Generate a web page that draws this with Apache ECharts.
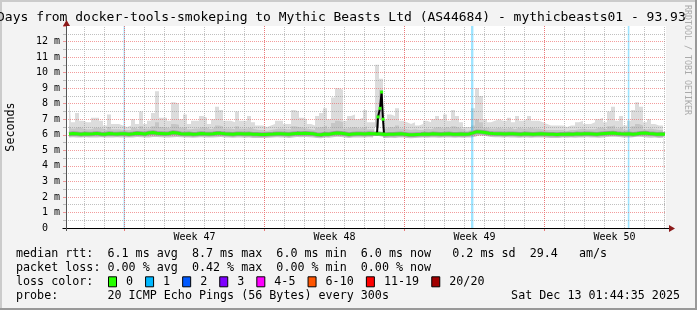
<!DOCTYPE html>
<html><head><meta charset="utf-8">
<script src="https://cdn.jsdelivr.net/npm/echarts@6/dist/echarts.min.js"></script>
<style>html,body{margin:0;padding:0;background:#f3f3f3}#c{width:697px;height:310px}</style>
</head><body><div id="c"></div>
<script>
// ---------------- data ----------------
const titleText = 'Days from docker-tools-smokeping to Mythic Beasts Ltd (AS44684) - mythicbeasts01 - 93.93';
const yAxisName = 'Seconds';
const watermark = 'RRDTOOL / TOBI OETIKER';
const weekLabels = ['Week 47', 'Week 48', 'Week 49', 'Week 50'];
const weekMidDays = [6.425, 13.425, 20.425, 27.425];   // label centres (days from graph start)
const weekStartDays = [2.925, 9.925, 16.925, 23.925];  // major grid (week boundaries)
const firstDayLine = 0.925;                            // minor grid (day boundaries)
const spanDays = 30;
const lossBands = [[2.88, 2.95], [20.25, 20.37], [28.09, 28.17]]; // 1/20 loss periods
const binStart = 0.15, binDays = 0.2;                  // sample spacing of the arrays below

// median rtt per bin (ms); the two bins of the week-48 spike are sampled finer below
const median = [
 6.05,6.08,6.06,6.04,6.07,6.05,6.06,6.09,6.05,6.04,
 6.08,6.06,6.05,6.07,6.06,6.04,6.06,6.10,6.08,6.05,
 6.12,6.14,6.10,6.08,6.06,6.08,6.15,6.12,6.07,6.05,
 6.06,6.04,6.05,6.08,6.06,6.05,6.07,6.10,6.09,6.06,
 6.05,6.04,6.07,6.06,6.05,6.06,6.04,6.03,6.02,6.02,
 6.04,6.05,6.07,6.06,6.05,6.03,6.06,6.09,6.08,6.10,
 6.08,6.06,6.02,6.00,6.05,6.04,6.08,6.12,6.10,6.06,
 6.02,6.05,6.07,6.06,6.05,6.08,6.06,null,null,6.02,
 6.04,6.03,6.05,6.06,6.04,6.00,6.00,6.02,6.03,6.05,
 6.04,6.06,6.05,6.04,6.05,6.06,6.03,6.04,6.05,6.04,
 6.05,6.12,6.20,6.18,6.15,6.10,6.08,6.07,6.06,6.05,
 6.07,6.06,6.05,6.04,6.06,6.05,6.04,6.05,6.06,6.05,
 6.04,6.03,6.02,6.04,6.03,6.05,6.04,6.06,6.05,6.07,
 6.06,6.05,6.04,6.06,6.08,6.10,6.12,6.08,6.06,6.05,
 6.07,6.04,6.06,6.10,6.12,6.08,6.06,6.04,6.05,6.03
];
const smokeMin = [
 5.82,5.84,5.83,5.82,5.84,5.83,5.82,5.83,5.84,5.82,
 5.83,5.82,5.84,5.83,5.82,5.82,5.83,5.85,5.84,5.82,
 5.83,5.85,5.86,5.84,5.83,5.82,5.84,5.86,5.84,5.82,
 5.82,5.81,5.82,5.84,5.83,5.82,5.83,5.84,5.85,5.83,
 5.82,5.81,5.83,5.82,5.81,5.82,5.80,5.80,5.79,5.80,
 5.81,5.82,5.84,5.83,5.82,5.80,5.83,5.85,5.84,5.85,
 5.84,5.82,5.80,5.78,5.82,5.81,5.84,5.87,5.86,5.82,
 5.80,5.82,5.83,5.83,5.82,5.84,5.83,6.50,7.00,5.80,
 5.81,5.80,5.82,5.83,5.79,5.77,5.80,5.81,5.82,5.81,
 5.83,5.82,5.81,5.82,5.83,5.82,5.81,5.82,5.81,5.82,
 5.82,5.88,5.95,5.93,5.90,5.86,5.84,5.84,5.83,5.84,
 5.83,5.82,5.81,5.83,5.82,5.81,5.82,5.83,5.82,5.81,
 5.80,5.79,5.80,5.82,5.81,5.82,5.81,5.83,5.82,5.84,
 5.83,5.82,5.81,5.83,5.85,5.87,5.88,5.85,5.83,5.82,
 5.83,5.86,5.88,5.85,5.83,5.81,5.82,5.80,5.81,5.80
];
const smokeMid = [
 6.60,6.40,6.50,6.40,6.35,6.35,6.45,6.45,6.40,6.30,
 6.50,6.35,6.35,6.30,6.30,6.30,6.45,6.35,6.55,6.40,
 6.40,6.55,6.80,6.50,6.45,6.40,6.70,6.65,6.45,6.50,
 6.35,6.40,6.40,6.50,6.45,6.35,6.45,6.60,6.55,6.40,
 6.40,6.35,6.55,6.40,6.40,6.45,6.35,6.30,6.30,6.25,
 6.30,6.35,6.40,6.40,6.35,6.35,6.55,6.50,6.45,6.40,
 6.35,6.30,6.45,6.50,6.60,6.40,6.75,6.90,6.80,6.40,
 6.45,6.50,6.40,6.45,6.55,6.35,6.35,7.60,8.90,6.40,
 6.50,6.45,6.60,6.40,6.35,6.30,6.35,6.30,6.30,6.40,
 6.35,6.45,6.50,6.40,6.50,6.40,6.55,6.45,6.35,6.25,
 6.30,6.60,7.00,6.80,6.45,6.40,6.40,6.45,6.40,6.40,
 6.45,6.35,6.45,6.40,6.40,6.45,6.40,6.40,6.35,6.30,
 6.30,6.30,6.30,6.30,6.25,6.30,6.30,6.35,6.40,6.35,
 6.35,6.35,6.45,6.45,6.35,6.55,6.60,6.40,6.50,6.30,
 6.40,6.55,6.70,6.60,6.35,6.40,6.35,6.30,6.30,6.25
];
const smokeMax = [
 8.4,6.8,7.4,6.9,6.8,6.8,7.1,7.1,6.9,6.6,
 7.3,6.7,6.7,6.6,6.5,6.6,7.0,6.7,7.5,6.7,
 6.9,7.4,8.8,7.1,7.1,6.9,8.1,8.0,7.0,7.3,
 6.7,6.9,6.9,7.2,7.1,6.7,7.0,7.8,7.6,6.9,
 6.9,6.8,7.5,6.9,6.9,7.2,6.8,6.6,6.6,6.5,
 6.6,6.7,6.9,6.9,6.7,6.7,7.6,7.5,7.1,7.0,
 6.7,6.6,7.2,7.4,7.7,7.0,8.4,9.0,8.9,6.9,
 7.2,7.3,7.0,7.1,7.6,6.8,6.8,10.5,9.6,7.0,
 7.3,7.2,7.7,6.9,6.8,6.7,6.8,6.6,6.7,6.9,
 6.8,7.0,7.2,7.0,7.3,6.9,7.6,7.2,6.8,6.5,
 6.5,7.7,9.0,8.5,7.0,6.8,6.9,7.0,6.9,6.9,
 7.1,6.8,7.2,6.9,7.0,7.2,6.9,6.9,6.8,6.7,
 6.6,6.6,6.6,6.6,6.5,6.6,6.6,6.8,6.9,6.7,
 6.7,6.8,7.0,7.1,6.8,7.5,7.8,6.9,7.2,6.6,
 6.9,7.6,8.1,7.8,6.8,7.0,6.7,6.6,6.6,6.5
];
// finer samples of the median spike in week 48
const spikeDays   = [15.55, 15.60, 15.70, 15.78, 15.85, 15.90];
const spikeValues = [6.06, 7.15, 7.70, 8.75, 7.00, 6.05];

const legendRows = [
  'median rtt:  6.1 ms avg  8.7 ms max  6.0 ms min  6.0 ms now   0.2 ms sd  29.4   am/s',
  'packet loss: 0.00 % avg  0.42 % max  0.00 % min  0.00 % now'
];
const lossColorTitle = 'loss color:';
const lossLabels = ['0', '1', '2', '3', '4-5', '6-10', '11-19', '20/20'];
const lossColors = ['#26ff00', '#00b8ff', '#0059ff', '#7e00ff', '#ff00ff', '#ff5500', '#ff0000', '#a10000'];
const probeText = 'probe:       20 ICMP Echo Pings (56 Bytes) every 300s';
const dateText = 'Sat Dec 13 01:44:35 2025';

// ---------------- chart ----------------
const G = {left: 66, right: 31, top: 26, bottom: 82};
const W = 697, H = 310;
const mono = '"DejaVu Sans Mono", monospace';
const times = median.map((_, i) => binStart + binDays * i);
const pair = (arr) => arr.map((v, i) => [times[i], v === null ? '-' : v]);
const dayLines = [];
for (let d = firstDayLine; d < spanDays; d += 1) {
  const dd = +d.toFixed(3);
  if (!weekStartDays.some(w => Math.abs(w - dd) < 1e-6)) dayLines.push({xAxis: dd});
}

const chart = echarts.init(document.getElementById('c'), null, {renderer: 'canvas'});
const x0 = G.left, yb = H - G.bottom;

const majorColor = 'rgba(235,90,90,0.6)';
const majorVColor = '#e97a7a';
const minorColor = 'rgba(150,150,150,0.6)';
const area = (data, color, z) => ({type: 'line', step: 'middle', symbol: 'none', z: z, silent: true,
  lineStyle: {width: 0}, areaStyle: {color: color, opacity: 1, origin: 'start'}, data: pair(data)});

chart.setOption({
  animation: false,
  backgroundColor: '#f3f3f3',
  grid: {left: G.left, right: G.right, top: G.top, bottom: G.bottom, show: true,
    backgroundColor: '#ffffff', borderWidth: 0},
  xAxis: {
    type: 'value', min: 0, max: spanDays, z: 3,
    axisLine: {show: false},
    splitLine: {show: false},
    axisTick: {show: true, customValues: weekStartDays, length: 3, inside: false,
      lineStyle: {color: majorVColor}},
    axisLabel: {show: true, customValues: weekMidDays, margin: 4, color: '#000',
      fontFamily: 'DejaVu Sans Mono', fontSize: 10,
      formatter: (v) => {
        let best = 0;
        weekMidDays.forEach((m, i) => { if (Math.abs(m - v) < Math.abs(weekMidDays[best] - v)) best = i; });
        return weekLabels[best];
      }}
  },
  yAxis: {
    type: 'value', min: 0, max: 13, interval: 1, z: 3,
    axisLine: {show: false},
    axisTick: {show: true, length: 3, lineStyle: {color: majorColor}},
    minorTick: {show: true, splitNumber: 2, length: 3, lineStyle: {color: minorColor}},
    splitLine: {show: true, showMinLine: false, showMaxLine: false,
      lineStyle: {color: majorColor, type: [1, 1], width: 1}},
    minorSplitLine: {show: true, lineStyle: {color: minorColor, type: [1, 1], width: 1}},
    axisLabel: {show: true, showMaxLabel: false, margin: 6, color: '#000',
      fontFamily: 'DejaVu Sans Mono', fontSize: 10,
      formatter: (v) => v === 0 ? '0  ' : v + ' m'}
  },
  series: [
    area(smokeMax, '#dcdcdc', 1.1),
    area(smokeMid, '#c6c6c6', 1.2),
    area(smokeMin, '#ffffff', 1.3),
    {type: 'line', data: [], z: 2, silent: true,
      markArea: {silent: true, z: 2, itemStyle: {color: 'rgba(0,184,255,0.38)'},
        data: lossBands.map(b => [{xAxis: b[0]}, {xAxis: b[1]}])}},
    {type: 'line', data: [], z: 3, silent: true,
      markLine: {silent: true, z: 3, symbol: ['none', 'none'], label: {show: false},
        lineStyle: {color: minorColor, type: [1, 1], width: 1},
        data: dayLines}},
    {name: 'dark', type: 'line', step: 'middle', symbol: 'none', z: 4, silent: true, connectNulls: true,
      lineStyle: {color: '#9c9c9c', width: 4.5}, data: pair(median)},
    {name: 'median', type: 'line', step: 'middle', symbol: 'none', z: 5, silent: true, connectNulls: true,
      lineStyle: {color: '#26ff00', width: 3}, data: pair(median)},
    {name: 'spike', type: 'line', z: 6, symbol: 'rect', symbolSize: 3, showSymbol: true, silent: true,
      itemStyle: {color: '#26ff00'}, lineStyle: {color: '#000', width: 2},
      data: spikeDays.map((d, i) => [d, spikeValues[i]])}
  ]
});

const graphics = [];
// week boundary grid lines, positioned through the x axis scale
weekStartDays.forEach(w => {
  const px = Math.round(chart.convertToPixel({xAxisIndex: 0}, w) - 0.5) + 0.5;
  graphics.push({type: 'line', z: 3, silent: true,
    shape: {x1: px, y1: G.top, x2: px, y2: yb},
    style: {stroke: majorVColor, lineWidth: 1, lineDash: [1, 1]}});
});
// frame
graphics.push({type: 'rect', shape: {x: 0, y: 0, width: W, height: 2}, style: {fill: '#cbcbcb'}, z: 50});
graphics.push({type: 'rect', shape: {x: 0, y: 0, width: 2, height: H}, style: {fill: '#cbcbcb'}, z: 50});
graphics.push({type: 'rect', shape: {x: 0, y: H - 2, width: W, height: 2}, style: {fill: '#999999'}, z: 50});
graphics.push({type: 'rect', shape: {x: W - 2, y: 0, width: 2, height: H}, style: {fill: '#999999'}, z: 50});
// title
graphics.push({type: 'text', z: 60, style: {text: titleText, x: -3, y: 18, fill: '#000',
  font: '13px ' + mono, verticalAlign: 'middle', align: 'left'}});
// y axis name
graphics.push({type: 'text', z: 60, x: 11, y: 127, rotation: Math.PI / 2,
  style: {text: yAxisName, fill: '#000', font: '11.7px ' + mono, align: 'center', verticalAlign: 'middle'}});
// watermark
graphics.push({type: 'text', z: 60, x: 687, y: 60, rotation: -Math.PI / 2,
  style: {text: watermark, fill: '#aaaaaa', font: '8.3px ' + mono, align: 'center', verticalAlign: 'middle'}});
// axes + arrows
graphics.push({type: 'line', z: 60, shape: {x1: 62.5, y1: yb + 0.5, x2: 670, y2: yb + 0.5}, style: {stroke: '#000', lineWidth: 1}});
graphics.push({type: 'line', z: 60, shape: {x1: x0 + 0.5, y1: yb + 3, x2: x0 + 0.5, y2: 23}, style: {stroke: '#555', lineWidth: 1}});
graphics.push({type: 'polygon', z: 61, shape: {points: [[669, yb - 3], [675, yb + 0.5], [669, yb + 4]]}, style: {fill: '#8b1a1a'}});
graphics.push({type: 'polygon', z: 61, shape: {points: [[x0 - 3, 26], [x0 + 0.5, 20], [x0 + 4, 26]]}, style: {fill: '#8b1a1a'}});
// legend rows
const lf = '11.7px ' + mono;
const rowY = [254.3, 268.3, 282.3, 296];
legendRows.forEach((t, i) => graphics.push({type: 'text', z: 60,
  style: {text: t, x: 16, y: rowY[i], fill: '#000', font: lf, verticalAlign: 'middle'}}));
graphics.push({type: 'text', z: 60, style: {text: lossColorTitle, x: 16, y: rowY[2], fill: '#000', font: lf, verticalAlign: 'middle'}});
let bx = 108;
lossLabels.forEach((lab, i) => {
  graphics.push({type: 'rect', z: 60, shape: {x: bx + 0.5, y: rowY[2] - 5.5, width: 8, height: 10},
    style: {fill: lossColors[i], stroke: '#000', lineWidth: 1}});
  graphics.push({type: 'text', z: 60, style: {text: lab, x: bx + 18, y: rowY[2], fill: '#000', font: lf, verticalAlign: 'middle'}});
  bx += 30 + lab.length * 7.08;
});
graphics.push({type: 'text', z: 60, style: {text: probeText, x: 16, y: rowY[3], fill: '#000', font: lf, verticalAlign: 'middle'}});
graphics.push({type: 'text', z: 60, style: {text: dateText, x: 680, y: rowY[3], fill: '#000', font: lf, verticalAlign: 'middle', align: 'right'}});

chart.setOption({graphic: graphics});
</script></body></html>
